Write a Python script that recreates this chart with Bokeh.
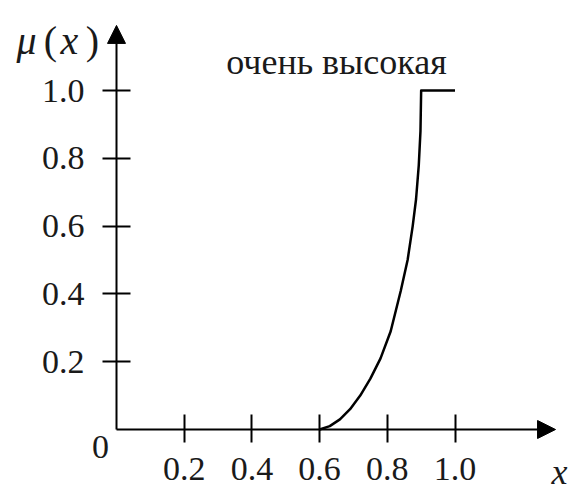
from bokeh.plotting import figure
from bokeh.models import Range1d, FixedTicker, Label, Arrow, NormalHead
from bokeh.embed import file_html
from bokeh.resources import INLINE

# data
x_ticks = [0.2, 0.4, 0.6, 0.8, 1.0]
x_tick_labels = ["0.2", "0.4", "0.6", "0.8", "1.0"]
y_ticks = [0.2, 0.4, 0.6, 0.8, 1.0]
y_tick_labels = ["0.2", "0.4", "0.6", "0.8", "1.0"]
curve_x = [0.60, 0.63, 0.66, 0.69, 0.72, 0.75, 0.78, 0.81, 0.84, 0.86, 0.875, 0.885, 0.893, 0.898, 0.90, 1.00]
curve_mu = [0.00, 0.01, 0.03, 0.06, 0.10, 0.15, 0.21, 0.29, 0.41, 0.50, 0.60, 0.68, 0.78, 0.88, 1.00, 1.00]
title_text = "очень высокая"
x_axis_end = 1.297
y_axis_end = 1.192

FONT = "Liberation Serif"
TXT = "#1a1a1a"

p = figure(frame_width=570, frame_height=484,
           x_range=Range1d(-0.3427, 1.3412), y_range=Range1d(-0.1622, 1.2655),
           output_backend="svg", toolbar_location=None,
           min_border_left=0, min_border_right=0,
           min_border_top=0, min_border_bottom=0)
p.outline_line_color = None
p.grid.visible = False
p.background_fill_color = "white"
p.border_fill_color = "white"

for ax, ticks, labels, tin, tout, stand in ((p.xaxis[0], x_ticks, x_tick_labels, 15, 13, 15),
                                            (p.yaxis[0], y_ticks, y_tick_labels, 14, 14, 18)):
    ax.fixed_location = 0
    ax.ticker = FixedTicker(ticks=ticks)
    ax.major_label_overrides = {t: l for t, l in zip(ticks, labels)}
    ax.major_tick_in = tin
    ax.major_tick_out = tout
    ax.minor_tick_line_color = None
    ax.axis_line_color = None
    ax.major_tick_line_width = 2
    ax.major_tick_line_color = "black"
    ax.major_label_text_font = FONT
    ax.major_label_text_font_size = "34px"
    ax.major_label_text_color = TXT
    ax.major_label_standoff = stand

p.line(curve_x, curve_mu, line_width=2.5, line_color="black", line_join="round")

p.add_layout(Arrow(end=NormalHead(size=18, fill_color="black", line_color="black"),
                   x_start=0, y_start=0, x_end=x_axis_end, y_end=0, line_width=2, line_color="black"))
p.add_layout(Arrow(end=NormalHead(size=18, fill_color="black", line_color="black"),
                   x_start=0, y_start=0, x_end=0, y_end=y_axis_end, line_width=2, line_color="black"))

p.add_layout(Label(x=0.65, y=1.083, text=title_text, text_font=FONT, text_font_size="36px",
                   text_align="center", text_baseline="alphabetic", text_color=TXT))
p.add_layout(Label(x=-0.047, y=-0.053, text="0", text_font=FONT, text_font_size="34px",
                   text_align="center", text_baseline="middle", text_color=TXT))
p.add_layout(Label(x=1.309, y=-0.124, text="x", text_font=FONT, text_font_size="36px",
                   text_font_style="italic", text_align="center", text_baseline="middle", text_color=TXT))
for xx, ch, style in ((-0.266, "μ", "italic"), (-0.195, "(", "normal"),
                      (-0.139, "x", "italic"), (-0.071, ")", "normal")):
    p.add_layout(Label(x=xx, y=1.147, text=ch, text_font=FONT, text_font_size="40px",
                       text_font_style=style, text_align="center", text_baseline="alphabetic",
                       text_color=TXT))

open("out.html", "w").write(file_html(p, INLINE))
